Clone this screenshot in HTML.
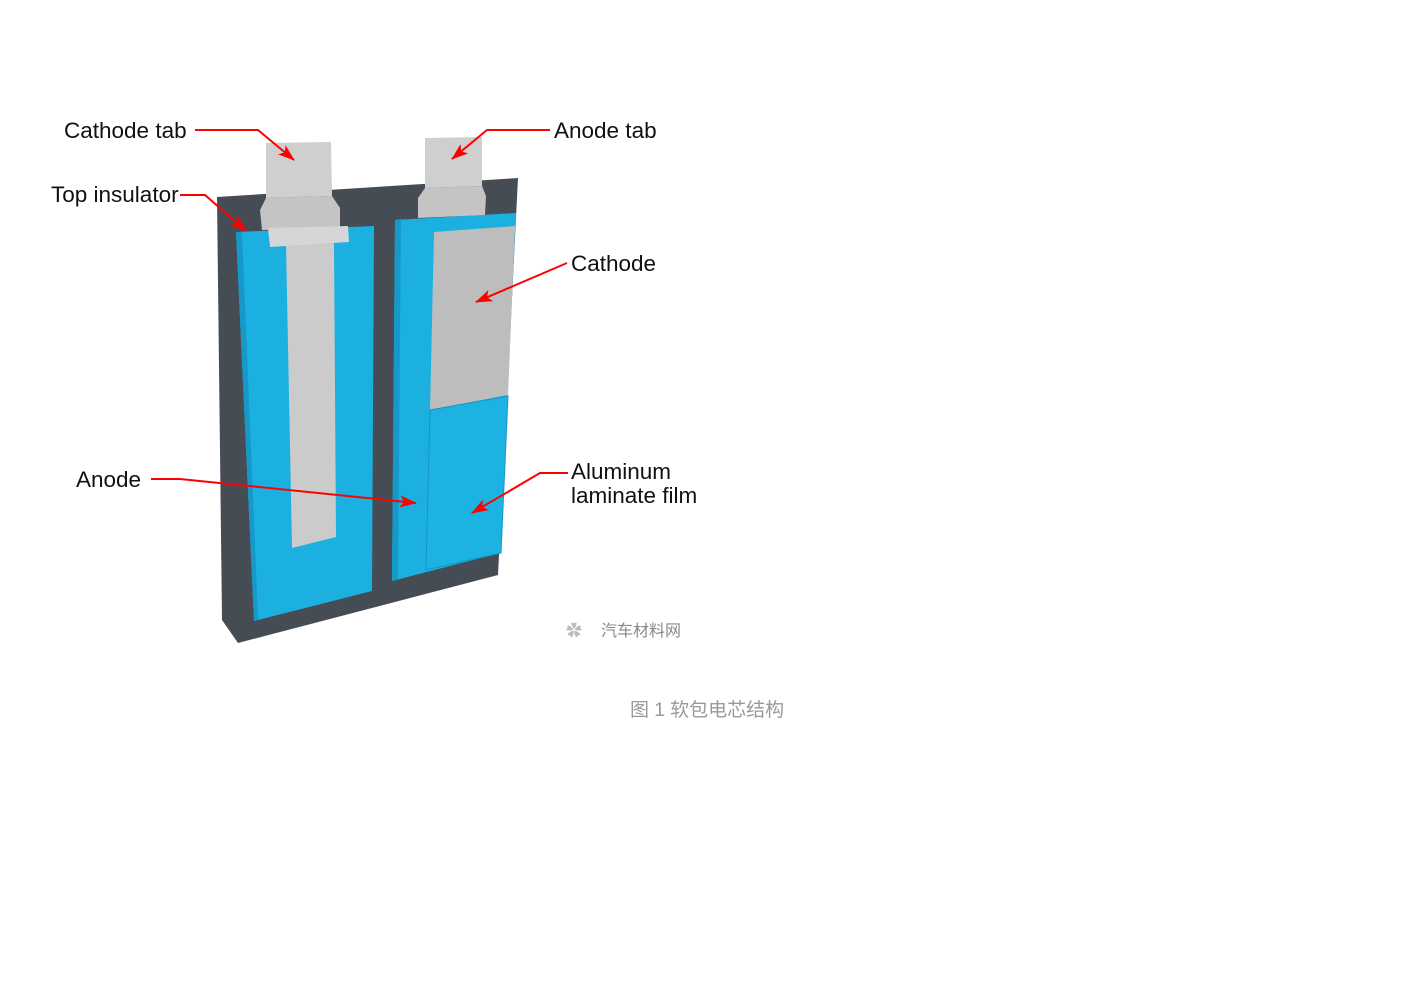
<!DOCTYPE html>
<html><head><meta charset="utf-8"><style>
body{margin:0;background:#fff;width:1403px;height:992px;overflow:hidden}
svg{position:absolute;left:0;top:0}
text{font-family:"Liberation Sans","Noto Sans CJK SC",sans-serif}
</style></head><body>
<svg width="1403" height="992" viewBox="0 0 1403 992">
<defs>
<marker id="b" markerWidth="18" markerHeight="12" refX="16" refY="6" orient="auto" markerUnits="userSpaceOnUse"><path d="M0,0 L17,6 L0,12 L4,6 z" fill="#f00"/></marker></defs>
<polygon points="217,197 518,178 498,575 238,643 222,620" fill="#464c53"/>
<polygon points="236,232 374,226 372,591 254,621" fill="#1bb0e0"/>
<polygon points="236,232 242,232 258,619 254,621" fill="#1699c8"/>
<polygon points="286,245 334,243 336,537 292,548" fill="#cbcbcb"/>
<polygon points="266,143 331,142 332,196 266,198" fill="#cfcfcf"/>
<polygon points="266,198 332,196 340,208 340,228 262,230 260,210" fill="#c4c4c4"/>
<polygon points="268,228 348,226 349,242 270,247" fill="#d6d6d6"/>
<polygon points="395,220 516,213 500,553 392,581" fill="#1bb0e0"/>
<polygon points="395,220 401,219 398,579 392,581" fill="#1699c8"/>
<polygon points="434,232 515,226 508,395 430,410" fill="#bdbdbd"/>
<polygon points="430,410 508,396 501,553 426,570" fill="#1cb2e2" stroke="#1695c4" stroke-width="1"/>
<polygon points="425,138 482,137 482,186 425,188" fill="#cfcfcf"/>
<polygon points="425,188 482,186 486,196 485,215 418,218 418,198" fill="#c4c4c4"/>
<g stroke="#f00" stroke-width="2" fill="none">
<polyline points="195,130 258,130 294,160" marker-end="url(#b)"/>
<polyline points="550,130 487,130 452,159" marker-end="url(#b)"/>
<polyline points="180,195 205,195 246,231" marker-end="url(#b)"/>
<polyline points="567,263 476,302" marker-end="url(#b)"/>
<polyline points="151,479 180,479 416,503" marker-end="url(#b)"/>
<polyline points="568,473 540,473 472,513" marker-end="url(#b)"/>
</g>
<g font-size="22.5" fill="#111">
<text x="64" y="138">Cathode tab</text>
<text x="554" y="138">Anode tab</text>
<text x="51" y="202">Top insulator</text>
<text x="571" y="271">Cathode</text>
<text x="76" y="487">Anode</text>
<text x="571" y="479">Aluminum</text>
<text x="571" y="503">laminate film</text>
</g>
<text x="566" y="636" font-size="16" fill="#bbb">✿</text>
<text x="601" y="636" font-size="16" fill="#888">汽车材料网</text>
<text x="630" y="716" font-size="19" fill="#999">图 1 软包电芯结构</text>
</svg>
</body></html>
